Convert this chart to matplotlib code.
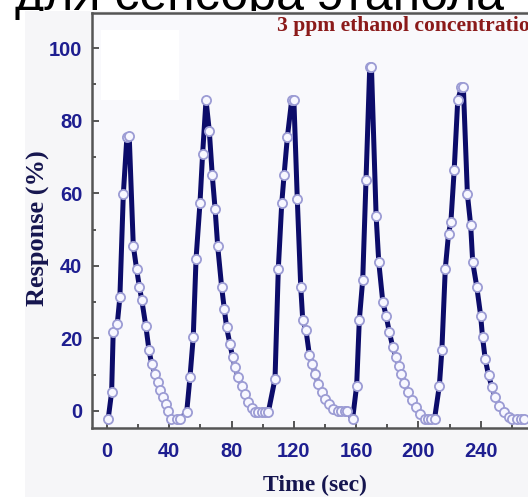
import matplotlib
matplotlib.use("Agg")
import matplotlib.pyplot as plt
from matplotlib.patches import Rectangle
from matplotlib.ticker import MultipleLocator

# ---- data ----
time_sec = [0.8, 3, 4, 6.6, 8.3, 10.5, 12.8, 14.3, 16.9, 19, 20.8, 22.3, 25, 27, 28.7, 30.8,
            32.5, 34, 36.2, 37.9, 39.4, 40.9, 44.7, 47, 51.2,
            53.3, 55.4, 57.2, 59.7, 61.4, 63.6, 65.7, 67.6, 69.4, 71.1, 73.6, 75.3, 76.8, 78.9,
            80.7, 82.2, 84.3, 86.5, 88.6, 90.7, 92.9, 95, 97, 99.3, 101.5, 103.6,
            107.9, 110, 112.2, 113.7, 115.8, 118.6, 120, 122.2, 124.4, 125.7, 127.8, 130, 131.9,
            133.6, 135.7, 137.9, 140, 142.8, 145.3, 148.5, 150.5, 152.5, 154, 157.7,
            160.3, 162, 164.2, 166.3, 168.7, 169.8, 172.8, 174.5, 177.1, 179.2, 181.3, 183.5,
            185.6, 187.2, 188.9, 191, 193.2, 195.8, 198.1, 200.7, 203.9, 206, 208, 210.3,
            213.4, 215, 217.2, 219.3, 220.8, 222.9, 225.2, 227.6, 228.8, 231.4, 233.5, 234.8,
            237.4, 239.9, 241.1, 242.8, 245, 247.1, 249.2, 252, 254.6, 257.8, 260, 263.2,
            265.5, 267.5]
response = [-2.2, 5.2, 21.7, 23.9, 31.4, 59.7, 75.5, 75.7, 45.6, 39.2, 34.3, 30.7, 23.3, 16.7, 13, 10.3,
            7.9, 5.7, 3.8, 2, 0, -2.2, -2.2, -2.2, -0.3,
            9.3, 20.4, 42, 57.2, 70.8, 85.7, 77.2, 65, 55.8, 45.4, 34.3, 28.2, 23.1, 18.5,
            14.8, 12.1, 9.3, 7, 4.7, 2.4, 0.9, -0.3, -0.3, -0.3, -0.3, -0.3,
            8.9, 39.2, 57.2, 65, 75.4, 85.7, 85.7, 58.3, 34.3, 25, 22.2, 15.3, 13,
            10.3, 7.5, 5.2, 3.4, 1.8, 0.6, 0, 0, 0, 0, -2.2,
            7, 25, 36.2, 63.6, 94.8, 94.8, 53.7, 41, 30, 26.3, 21.7, 17.6,
            14.8, 12.5, 10.3, 7.7, 5.2, 2.9, 1, -0.8, -2.2, -2.2, -2.2, -2.2,
            7, 16.7, 39.2, 48.9, 52.1, 66.3, 85.7, 89.3, 89.3, 59.7, 51.2, 41,
            34.3, 26.3, 20.4, 14.4, 9.8, 6.6, 3.8, 1.5, -0.3, -1.7, -2.2, -2.2,
            -2.2, -2.2]
x_ticks = [0, 40, 80, 120, 160, 200, 240]
y_ticks = [0, 20, 40, 60, 80, 100]

W, H = 528, 497
fig = plt.figure(figsize=(W / 100, H / 100), dpi=100)
fig.patch.set_facecolor("white")

# caption fragment at the very top (mostly cut off)
fig.text(15 / W, 1 - 10 / H, "для сенсора этанола", fontsize=36, color="black",
         family=["Liberation Sans", "DejaVu Sans"], ha="left", va="baseline", zorder=-2)
# light panel of the screenshot
fig.patches.append(Rectangle((25 / W, 0), 1, 1 - 11 / H, transform=fig.transFigure,
                             facecolor="#f6f6f8", edgecolor="none", zorder=-1))

left, right, top, bottom = 92, 528, 13, 428
ax = fig.add_axes([left / W, 1 - bottom / H, (right - left) / W, (bottom - top) / H])
ax.set_facecolor("#f9f9fc")

# white box in the upper-left of the plot area
ax.add_patch(Rectangle((0.02, 0.79), 0.18, 0.17, transform=ax.transAxes,
                       facecolor="white", edgecolor="none", zorder=0.5))

ax.plot(time_sec, response, "-", color="#0c0c6a", lw=3.6, zorder=2)
ax.plot(time_sec, response, "o", ms=6.6, mfc="#f7f7ff", mec="#9c9cd4", mew=1.3, zorder=3)

ax.set_xlim(-9.6, 270.3)
ax.set_ylim(-4.7, 109.7)
ax.set_xticks(x_ticks)
ax.set_yticks(y_ticks)
ax.xaxis.set_minor_locator(MultipleLocator(20))
ax.yaxis.set_minor_locator(MultipleLocator(10))

tick_color = "#1e1e90"
ax.tick_params(which="both", direction="in", color="#555555", width=1.4)
ax.tick_params(which="major", length=5)
ax.tick_params(which="minor", length=3)
ax.tick_params(axis="y", pad=7)
ax.tick_params(axis="x", pad=10)
for lab in ax.get_xticklabels() + ax.get_yticklabels():
    lab.set_fontfamily("Liberation Sans")
    lab.set_fontweight("bold")
    lab.set_fontsize(14.5)
    lab.set_color(tick_color)

for s in ["left", "bottom", "top"]:
    ax.spines[s].set_color("#555555")
    ax.spines[s].set_linewidth(1.8)
ax.spines["right"].set_visible(False)

ax.set_xlabel("Time (sec)", family="Liberation Serif", fontweight="bold", fontsize=17,
              color="#15154f")
ax.set_ylabel("Response (%)", family="Liberation Serif", fontweight="bold", fontsize=19,
              color="#15154f")
ax.xaxis.set_label_coords((315 - left) / (right - left), -(485 - bottom) / (bottom - top))
ax.yaxis.set_label_coords(-(92 - 38) / (right - left), (bottom - 228) / (bottom - top))
ax.xaxis.label.set_va("center")
ax.yaxis.label.set_va("center")

ax.text((277 - left) / (right - left), (bottom - 26) / (bottom - top),
        "3 ppm ethanol concentration", transform=ax.transAxes, ha="left", va="center",
        family="Liberation Serif", fontweight="bold", fontsize=15.6, color="#8b1a1a",
        clip_on=False)

fig.savefig("out.png", dpi=100, facecolor=fig.get_facecolor())
